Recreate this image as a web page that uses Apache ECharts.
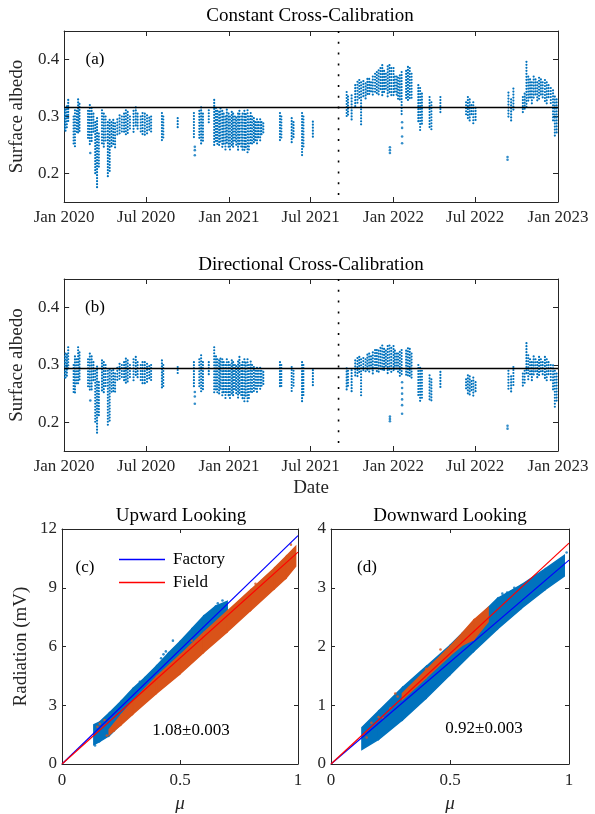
<!DOCTYPE html>
<html><head><meta charset="utf-8">
<script src="https://cdn.jsdelivr.net/npm/echarts@6/dist/echarts.min.js"></script>
<style>html,body{margin:0;padding:0;background:#fff}#c{width:595px;height:814px}</style>
</head><body><div id="c"></div><script>
// ---------------- data ----------------
const tickDates = ['2020-01-01','2020-07-01','2021-01-01','2021-07-01','2022-01-01','2022-07-01','2023-01-01'];
const tickLabels = ['Jan 2020','Jul 2020','Jan 2021','Jul 2021','Jan 2022','Jul 2022','Jan 2023'];
const albedoTicks = [0.2, 0.3, 0.4];
const cutDate = '2021-09-01';
const refConstant = 0.316;
const refDirectional = 0.294;

// [date, lowest albedo, highest albedo] of each daily stack of points
const constantCols = [
['2020-01-01',0.275,0.315],['2020-01-04',0.272,0.312],['2020-01-07',0.28,0.318],['2020-01-10',0.29,0.329],
['2020-01-22',0.25,0.30],['2020-01-25',0.246,0.311],['2020-01-29',0.268,0.31],['2020-02-01',0.267,0.33],['2020-02-04',0.27,0.322],
['2020-02-23',0.26,0.31],['2020-02-27',0.25,0.32],['2020-03-02',0.255,0.315],['2020-03-06',0.27,0.305],
['2020-03-10',0.20,0.29],['2020-03-14',0.174,0.297],['2020-03-18',0.21,0.27],
['2020-03-25',0.25,0.311],['2020-03-29',0.246,0.305],['2020-04-02',0.255,0.30],
['2020-04-07',0.192,0.29],['2020-04-11',0.20,0.294],
['2020-04-15',0.245,0.29],['2020-04-19',0.25,0.294],['2020-04-23',0.244,0.288],
['2020-04-28',0.265,0.295],['2020-05-03',0.27,0.302],['2020-05-08',0.273,0.30],
['2020-05-13',0.27,0.305],['2020-05-17',0.264,0.311],['2020-05-21',0.268,0.308],['2020-05-26',0.275,0.30],
['2020-06-03',0.27,0.31],['2020-06-08',0.28,0.316],['2020-06-12',0.274,0.305],
['2020-06-19',0.27,0.30],['2020-06-23',0.265,0.306],['2020-06-28',0.264,0.305],['2020-07-03',0.268,0.302],['2020-07-08',0.272,0.298],['2020-07-12',0.27,0.30],
['2020-08-05',0.258,0.306],['2020-08-08',0.262,0.30],
['2020-09-09',0.28,0.297],
['2020-10-15',0.26,0.306],
['2020-10-27',0.26,0.31],['2020-10-31',0.25,0.316],['2020-11-04',0.255,0.305],
['2020-11-17',0.285,0.311],
['2020-11-29',0.25,0.329],['2020-12-03',0.255,0.315],
['2020-12-06',0.25,0.31],['2020-12-10',0.248,0.308],['2020-12-13',0.255,0.314],['2020-12-17',0.245,0.31],['2020-12-20',0.25,0.305],['2020-12-24',0.24,0.30],['2020-12-27',0.252,0.312],['2020-12-31',0.245,0.305],
['2021-01-03',0.237,0.30],['2021-01-07',0.25,0.308],['2021-01-10',0.245,0.305],['2021-01-14',0.255,0.30],['2021-01-17',0.248,0.298],['2021-01-21',0.24,0.305],['2021-01-24',0.25,0.31],['2021-01-28',0.245,0.30],
['2021-01-31',0.24,0.305],['2021-02-04',0.238,0.31],['2021-02-07',0.245,0.304],['2021-02-11',0.236,0.311],['2021-02-14',0.24,0.30],['2021-02-18',0.25,0.306],['2021-02-21',0.248,0.30],['2021-02-25',0.25,0.297],
['2021-02-28',0.255,0.29],['2021-03-04',0.252,0.295],['2021-03-07',0.26,0.29],['2021-03-11',0.258,0.295],['2021-03-14',0.265,0.29],['2021-03-18',0.268,0.288],
['2021-04-24',0.258,0.306],['2021-04-27',0.262,0.30],
['2021-05-20',0.253,0.297],['2021-05-24',0.26,0.29],
['2021-06-12',0.232,0.306],['2021-06-15',0.245,0.30],
['2021-07-06',0.262,0.291],
['2021-09-19',0.296,0.343],['2021-09-22',0.30,0.335],
['2021-09-30',0.293,0.337],
['2021-10-08',0.317,0.355],['2021-10-13',0.32,0.361],
['2021-10-17',0.33,0.364],['2021-10-21',0.285,0.36],['2021-10-26',0.335,0.362],['2021-10-31',0.33,0.358],['2021-11-04',0.336,0.366],
['2021-11-08',0.335,0.366],['2021-11-12',0.34,0.36],['2021-11-16',0.335,0.37],['2021-11-21',0.34,0.375],
['2021-11-25',0.34,0.378],['2021-11-29',0.335,0.381],['2021-12-03',0.345,0.385],['2021-12-07',0.335,0.39],['2021-12-11',0.34,0.38],['2021-12-15',0.345,0.375],['2021-12-19',0.334,0.388],['2021-12-23',0.34,0.39],['2021-12-27',0.335,0.385],
['2022-01-01',0.335,0.385],['2022-01-04',0.34,0.37],['2022-01-08',0.337,0.37],['2022-01-11',0.33,0.368],['2022-01-15',0.325,0.372],['2022-01-19',0.30,0.378],
['2022-01-29',0.33,0.38],['2022-02-02',0.326,0.387],['2022-02-06',0.33,0.385],['2022-02-10',0.328,0.375],
['2022-02-25',0.29,0.355],['2022-03-01',0.276,0.35],['2022-03-05',0.285,0.34],
['2022-03-22',0.28,0.334],['2022-03-26',0.276,0.325],
['2022-04-15',0.305,0.334],
['2022-06-11',0.30,0.325],['2022-06-15',0.295,0.334],['2022-06-19',0.29,0.33],['2022-06-23',0.30,0.32],['2022-06-27',0.285,0.325],['2022-07-02',0.29,0.315],
['2022-09-13',0.295,0.342],['2022-09-19',0.29,0.33],['2022-09-24',0.31,0.349],
['2022-10-15',0.305,0.334],['2022-10-19',0.31,0.34],['2022-10-23',0.315,0.396],
['2022-10-27',0.325,0.37],['2022-10-31',0.33,0.365],['2022-11-04',0.323,0.36],['2022-11-08',0.33,0.37],['2022-11-12',0.335,0.365],['2022-11-16',0.325,0.36],['2022-11-20',0.33,0.368],['2022-11-24',0.335,0.365],['2022-11-28',0.33,0.36],
['2022-12-03',0.325,0.364],['2022-12-07',0.32,0.36],['2022-12-11',0.33,0.355],['2022-12-16',0.32,0.35],
['2022-12-21',0.29,0.346],['2022-12-25',0.262,0.335],['2022-12-29',0.27,0.33]
];
const constantOutliers = [
['2020-02-28',0.236],['2020-10-17',0.247],['2020-10-17',0.241],['2020-10-17',0.232],
['2021-12-24',0.246],['2021-12-24',0.241],['2021-12-24',0.236],
['2022-01-20',0.29],['2022-01-20',0.28],['2022-01-20',0.265],['2022-01-20',0.253],
['2022-09-11',0.229],['2022-09-11',0.224]
];

const directionalCols = [
['2020-01-01',0.275,0.315],['2020-01-04',0.273,0.32],['2020-01-07',0.28,0.318],['2020-01-10',0.29,0.331],
['2020-01-22',0.25,0.30],['2020-01-25',0.247,0.315],['2020-01-29',0.268,0.31],['2020-02-01',0.265,0.331],['2020-02-04',0.27,0.322],
['2020-02-23',0.26,0.31],['2020-02-27',0.253,0.32],['2020-03-02',0.255,0.315],['2020-03-06',0.27,0.305],
['2020-03-10',0.20,0.29],['2020-03-14',0.177,0.297],['2020-03-18',0.21,0.27],
['2020-03-25',0.253,0.308],['2020-03-29',0.25,0.305],['2020-04-02',0.26,0.30],
['2020-04-07',0.192,0.29],['2020-04-11',0.20,0.292],
['2020-04-15',0.25,0.29],['2020-04-19',0.253,0.291],['2020-04-23',0.25,0.285],
['2020-04-28',0.27,0.295],['2020-05-03',0.273,0.302],['2020-05-08',0.275,0.30],
['2020-05-13',0.27,0.305],['2020-05-17',0.2675,0.311],['2020-05-21',0.27,0.308],['2020-05-26',0.275,0.30],
['2020-06-03',0.27,0.31],['2020-06-08',0.28,0.314],['2020-06-12',0.274,0.305],
['2020-06-19',0.27,0.30],['2020-06-23',0.265,0.305],['2020-06-28',0.2645,0.305],['2020-07-03',0.268,0.302],['2020-07-08',0.272,0.298],['2020-07-12',0.27,0.30],
['2020-08-05',0.259,0.308],['2020-08-08',0.263,0.30],
['2020-09-09',0.285,0.2965],
['2020-10-15',0.262,0.305],
['2020-10-27',0.26,0.31],['2020-10-31',0.253,0.317],['2020-11-04',0.255,0.305],
['2020-11-17',0.282,0.305],
['2020-11-29',0.25,0.331],['2020-12-03',0.255,0.315],
['2020-12-06',0.25,0.31],['2020-12-10',0.247,0.308],['2020-12-13',0.255,0.311],['2020-12-17',0.245,0.31],['2020-12-20',0.25,0.305],['2020-12-24',0.24,0.30],['2020-12-27',0.25,0.31],['2020-12-31',0.245,0.305],
['2021-01-03',0.238,0.30],['2021-01-07',0.25,0.308],['2021-01-10',0.245,0.305],['2021-01-14',0.255,0.30],['2021-01-17',0.248,0.298],['2021-01-21',0.24,0.306],['2021-01-24',0.25,0.314],['2021-01-28',0.245,0.30],
['2021-01-31',0.24,0.305],['2021-02-04',0.236,0.31],['2021-02-07',0.245,0.304],['2021-02-11',0.235,0.31],['2021-02-14',0.24,0.30],['2021-02-18',0.25,0.306],['2021-02-21',0.248,0.30],['2021-02-25',0.25,0.2965],
['2021-02-28',0.255,0.29],['2021-03-04',0.252,0.295],['2021-03-07',0.26,0.29],['2021-03-11',0.258,0.295],['2021-03-14',0.262,0.29],['2021-03-18',0.265,0.288],
['2021-04-24',0.259,0.305],['2021-04-27',0.262,0.30],
['2021-05-20',0.253,0.2965],['2021-05-24',0.26,0.29],
['2021-06-12',0.2325,0.305],['2021-06-15',0.245,0.30],
['2021-07-06',0.262,0.291],
['2021-09-19',0.256,0.294],['2021-09-22',0.26,0.29],
['2021-09-30',0.25,0.291],
['2021-10-08',0.277,0.308],['2021-10-13',0.28,0.312],
['2021-10-17',0.285,0.314],['2021-10-21',0.244,0.31],['2021-10-26',0.287,0.312],['2021-10-31',0.285,0.31],['2021-11-04',0.29,0.318],
['2021-11-08',0.287,0.32],['2021-11-12',0.29,0.315],['2021-11-16',0.285,0.322],['2021-11-21',0.29,0.326],
['2021-11-25',0.288,0.326],['2021-11-29',0.285,0.325],['2021-12-03',0.29,0.33],['2021-12-07',0.288,0.334],['2021-12-11',0.29,0.328],['2021-12-15',0.295,0.325],['2021-12-19',0.285,0.333],['2021-12-23',0.29,0.334],['2021-12-27',0.287,0.33],
['2022-01-01',0.288,0.333],['2022-01-04',0.29,0.325],['2022-01-08',0.29,0.32],['2022-01-11',0.285,0.32],['2022-01-15',0.28,0.323],['2022-01-19',0.279,0.326],
['2022-01-29',0.28,0.325],['2022-02-02',0.277,0.329],['2022-02-06',0.28,0.328],['2022-02-10',0.278,0.32],
['2022-02-25',0.245,0.30],['2022-03-01',0.2325,0.295],['2022-03-05',0.24,0.29],
['2022-03-22',0.24,0.282],['2022-03-26',0.235,0.275],
['2022-04-15',0.259,0.288],
['2022-06-11',0.255,0.275],['2022-06-15',0.25,0.282],['2022-06-19',0.245,0.28],['2022-06-23',0.255,0.272],['2022-06-27',0.244,0.278],['2022-07-02',0.25,0.27],
['2022-09-13',0.255,0.29],['2022-09-19',0.25,0.28],['2022-09-24',0.26,0.2965],
['2022-10-15',0.259,0.285],['2022-10-19',0.265,0.29],['2022-10-23',0.282,0.338],
['2022-10-27',0.275,0.317],['2022-10-31',0.28,0.31],['2022-11-04',0.27,0.305],['2022-11-08',0.28,0.315],['2022-11-12',0.285,0.31],['2022-11-16',0.275,0.305],['2022-11-20',0.28,0.314],['2022-11-24',0.285,0.31],['2022-11-28',0.28,0.305],
['2022-12-03',0.275,0.314],['2022-12-07',0.27,0.31],['2022-12-11',0.28,0.305],['2022-12-16',0.272,0.30],
['2022-12-21',0.255,0.2995],['2022-12-25',0.224,0.29],['2022-12-29',0.235,0.285]
];
const directionalOutliers = [
['2020-02-28',0.238],['2020-10-17',0.253],['2020-10-17',0.245],['2020-10-17',0.2325],
['2021-12-24',0.210],['2021-12-24',0.206],['2021-12-24',0.202],
['2022-01-20',0.27],['2022-01-20',0.26],['2022-01-20',0.25],['2022-01-20',0.24],['2022-01-20',0.23],['2022-01-20',0.215],
['2022-09-11',0.194],['2022-09-11',0.189]
];

// point clouds: [mu, lower edge, upper edge] (mV)
const upFactoryCloud = [[0.135,1.0,2.0],[0.16,1.15,2.15],[0.2,1.45,2.6],[0.25,2.05,3.2],[0.3,2.7,3.85],[0.35,3.35,4.4],[0.4,4.0,5.0],[0.45,4.65,5.65],[0.5,5.25,6.25],[0.55,5.85,6.9],[0.6,6.45,7.55],[0.65,7.05,8.05],[0.7,7.7,8.3]];
const upFieldCloud = [[0.2,1.5,1.75],[0.25,2.0,2.5],[0.3,2.55,3.2],[0.4,3.6,4.45],[0.5,4.6,5.55],[0.6,5.7,6.7],[0.7,6.75,7.8],[0.8,7.85,8.9],[0.9,8.95,10.0],[0.95,9.5,10.6],[0.99,10.1,11.1]];
const downFactoryCloud = [[0.13,0.25,0.62],[0.2,0.42,0.9],[0.3,0.75,1.3],[0.4,1.12,1.66],[0.5,1.52,2.02],[0.6,1.92,2.42],[0.7,2.3,2.82],[0.8,2.65,3.05],[0.9,2.97,3.32],[0.98,3.2,3.55]];
const downFieldCloud = [[0.3,1.1,1.2],[0.4,1.47,1.6],[0.5,1.85,2.0],[0.55,2.02,2.22],[0.6,2.12,2.45],[0.66,2.42,2.66]];
const upFactoryStray = [[0.43,5.6],[0.44,5.75],[0.42,5.4],[0.47,6.3],[0.66,8.2],[0.68,8.35],[0.14,0.95],[0.33,4.2]];
const upFieldStray = [[0.16,2.05],[0.18,2.25],[0.15,1.9],[0.97,11.2],[0.55,6.3],[0.82,9.2],[0.19,1.45],[0.22,1.7]];
const downFactoryStray = [[0.72,2.9],[0.74,2.92],[0.77,3.0],[0.99,3.6]];
const downFieldStray = [[0.27,1.2],[0.28,1.15],[0.46,1.95],[0.17,0.7],[0.4,1.62],[0.14,0.5],[0.15,0.45],[0.2,0.8],[0.22,0.78],[0.25,0.95],[0.33,1.3]];

// fitted lines
const upFactoryLine = [[0,0],[1,11.66]];
const upFieldLine = [[0,0],[1,10.82]];
const downFactoryLine = [[0,0],[1,3.47]];
const downFieldLine = [[0,0],[1,3.76]];

// ---------------- chart ----------------
const FONT = 'Liberation Serif';
const INK = '#262626';
const BLUE = '#0072BD', ORANGE = '#D95319';
const T = s => Date.parse(s);
const tickTs = tickDates.map(T);

function dotColumn(params, api) {
  const t = api.value(0);
  const p1 = api.coord([t, api.value(2)]), p2 = api.coord([t, api.value(1)]);
  return {type:'line', shape:{x1:p1[0],y1:p1[1],x2:p2[0],y2:p2[1]},
    style:{stroke:BLUE, lineWidth:2.2, lineDash:[0,3], lineCap:'round', fill:null}};
}
function bandRender(rows, color) {
  return function(params, api) {
    const i = params.dataIndex;
    if (i >= rows.length - 1) return null;
    const a = rows[i], b = rows[i+1];
    const pts = [api.coord([a[0],a[1]]), api.coord([a[0],a[2]]), api.coord([b[0],b[2]]), api.coord([b[0],b[1]])];
    return {type:'polygon', shape:{points:pts}, style:{fill:color, stroke:color, lineWidth:1.5}};
  };
}
const axisLineS = {show:true, onZero:false, lineStyle:{color:INK, width:1}};
const labelS = {color:INK, fontFamily:FONT, fontSize:17};
function timeAxis(g, pos) {
  return {type:'value', gridIndex:g, position:pos, min:T('2020-01-01'), max:T('2023-01-01'),
    axisLine:axisLineS, splitLine:{show:false},
    axisTick:{show:true, inside:true, length:5, customValues:tickTs, lineStyle:{color:INK}},
    axisLabel:Object.assign({show:pos==='bottom', customValues:tickTs, margin:7,
      formatter:v => { const i = tickTs.indexOf(v); return i >= 0 ? tickLabels[i] : ''; }}, labelS),
    name: (g===1 && pos==='bottom') ? 'Date' : '', nameLocation:'middle', nameGap:28,
    nameTextStyle:{color:INK, fontFamily:FONT, fontSize:19}};
}
function albedoAxis(g, pos) {
  return {type:'value', gridIndex:g, position:pos, min:0.15, max:0.45,
    axisLine:axisLineS, splitLine:{show:false},
    axisTick:{show:true, inside:true, length:5, customValues:albedoTicks, lineStyle:{color:INK}},
    axisLabel:Object.assign({show:pos==='left', customValues:albedoTicks, margin:5, formatter:v=>Number(v).toFixed(1)}, labelS),
    name: pos==='left' ? 'Surface albedo' : '', nameLocation:'middle', nameGap:31,
    nameTextStyle:{color:INK, fontFamily:FONT, fontSize:19}};
}
function muAxis(g, pos) {
  return {type:'value', gridIndex:g, position:pos, min:0, max:1, interval:0.5,
    axisLine:axisLineS, splitLine:{show:false},
    axisTick:{show:true, inside:true, length:4, lineStyle:{color:INK}},
    axisLabel:Object.assign({show:pos==='bottom', margin:8, formatter:v=>String(v)}, labelS),
    name: pos==='bottom' ? 'μ' : '', nameLocation:'middle', nameGap:30,
    nameTextStyle:{color:INK, fontFamily:FONT, fontSize:19, fontStyle:'italic'}};
}
function radAxis(g, pos, max, step, named) {
  return {type:'value', gridIndex:g, position:pos, min:0, max:max, interval:step,
    axisLine:axisLineS, splitLine:{show:false},
    axisTick:{show:true, inside:true, length:4, lineStyle:{color:INK}},
    axisLabel:Object.assign({show:pos==='left', margin:5}, labelS),
    name: named ? 'Radiation (mV)' : '', nameLocation:'middle', nameGap:31,
    nameTextStyle:{color:INK, fontFamily:FONT, fontSize:19}};
}
const g = (l,t,w,h) => ({left:l, top:t, width:w, height:h, containLabel:false});

const series = [];
function albedoPanel(idx, cols, outliers, ref) {
  series.push({type:'custom', xAxisIndex:idx*2, yAxisIndex:idx*2, clip:true, silent:true,
    data:cols.map(c=>[T(c[0]),c[1],c[2]]), renderItem:dotColumn, animation:false});
  series.push({type:'scatter', xAxisIndex:idx*2, yAxisIndex:idx*2, symbolSize:2.6, silent:true,
    itemStyle:{color:BLUE}, data:outliers.map(p=>[T(p[0]),p[1]]), animation:false});
  series.push({type:'line', xAxisIndex:idx*2, yAxisIndex:idx*2, symbol:'none', silent:true,
    lineStyle:{color:'#000', width:1.5}, data:[[T('2020-01-01'),ref],[T('2023-01-01'),ref]], animation:false});
  series.push({type:'line', xAxisIndex:idx*2, yAxisIndex:idx*2, symbol:'none', silent:true,
    lineStyle:{color:'#000', width:1.6, type:[2,8.8]}, data:[[T(cutDate),0.45],[T(cutDate),0.15]], animation:false});
}
albedoPanel(0, constantCols, constantOutliers, refConstant);
albedoPanel(1, directionalCols, directionalOutliers, refDirectional);

function radPanel(idx, factoryCloud, fieldCloud, factoryStray, fieldStray, factoryLine, fieldLine) {
  const xi = idx*2, yi = idx*2;
  series.push({type:'custom', xAxisIndex:xi, yAxisIndex:yi, clip:true, silent:true, data:factoryCloud,
    renderItem:bandRender(factoryCloud, BLUE), animation:false});
  series.push({type:'scatter', xAxisIndex:xi, yAxisIndex:yi, symbolSize:2.6, silent:true, itemStyle:{color:BLUE}, data:factoryStray, animation:false});
  series.push({type:'custom', xAxisIndex:xi, yAxisIndex:yi, clip:true, silent:true, data:fieldCloud,
    renderItem:bandRender(fieldCloud, ORANGE), animation:false});
  series.push({type:'scatter', xAxisIndex:xi, yAxisIndex:yi, symbolSize:2.6, silent:true, itemStyle:{color:ORANGE}, data:fieldStray, animation:false});
  series.push({name:'Factory', type:'line', xAxisIndex:xi, yAxisIndex:yi, symbol:'none', silent:true,
    lineStyle:{color:'#0000FF', width:1.2}, itemStyle:{color:'#0000FF'}, data:factoryLine, animation:false});
  series.push({name:'Field', type:'line', xAxisIndex:xi, yAxisIndex:yi, symbol:'none', silent:true,
    lineStyle:{color:'#FF0000', width:1.2}, itemStyle:{color:'#FF0000'}, data:fieldLine, animation:false});
}
radPanel(2, upFactoryCloud, upFieldCloud, upFactoryStray, upFieldStray, upFactoryLine, upFieldLine);
radPanel(3, downFactoryCloud, downFieldCloud, downFactoryStray, downFieldStray, downFactoryLine, downFieldLine);

const txt = (x, y, text, size, extra) => ({type:'text', x:x, y:y, silent:true,
  style:Object.assign({text:text, fill:'#000', font: size + 'px "' + FONT + '"', textAlign:'center', textVerticalAlign:'middle'}, extra||{})});

const option = {
  backgroundColor:'#fff',
  animation:false,
  grid:[g(62,31,496,171), g(62,279,496,172), g(62,529,236,238), g(331,529,238,238)],
  xAxis:[timeAxis(0,'bottom'), timeAxis(0,'top'), timeAxis(1,'bottom'), timeAxis(1,'top'),
         muAxis(2,'bottom'), muAxis(2,'top'), muAxis(3,'bottom'), muAxis(3,'top')],
  yAxis:[albedoAxis(0,'left'), albedoAxis(0,'right'), albedoAxis(1,'left'), albedoAxis(1,'right'),
         radAxis(2,'left',12,3,true), radAxis(2,'right',12,3,false), radAxis(3,'left',4,1,false), radAxis(3,'right',4,1,false)],
  legend:{data:[{name:'Factory', icon:'rect'},{name:'Field', icon:'rect'}], orient:'vertical', left:119, top:551,
    itemWidth:46, itemHeight:1.6, itemGap:6, padding:0, selectedMode:false,
    textStyle:{color:'#000', fontFamily:FONT, fontSize:17, padding:[0,0,0,3]}},
  series:series,
  graphic:[
    txt(310,16,'Constant Cross-Calibration',19),
    txt(311,265,'Directional Cross-Calibration',19),
    txt(181,516,'Upward Looking',19),
    txt(450,516,'Downward Looking',19),
    txt(95,60,'(a)',17), txt(95,308,'(b)',17), txt(85,568,'(c)',17), txt(367,568,'(d)',17),
    txt(191,731,'1.08±0.003',17), txt(484,729,'0.92±0.003',17)
  ]
};
const chart = echarts.init(document.getElementById('c'), null, {renderer:'canvas'});
chart.setOption(option);
</script></body></html>
